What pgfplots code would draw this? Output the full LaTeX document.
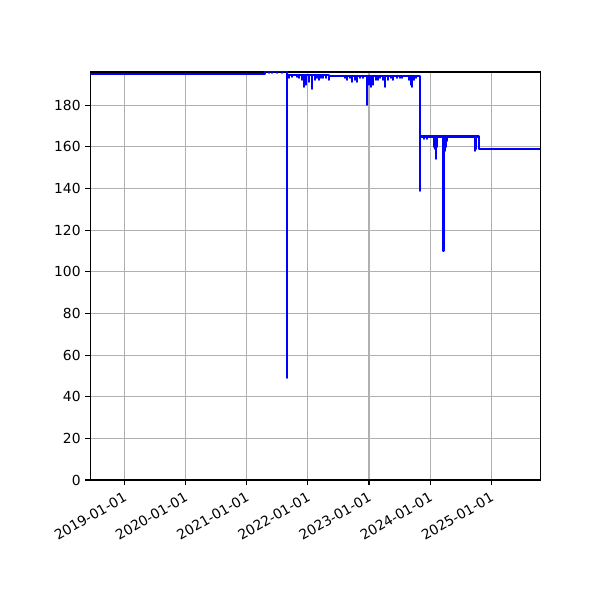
\documentclass[border=0pt]{standalone}
\usepackage{fontspec}
\setmainfont{DejaVu Sans}
\usepackage{pgfplots}
\pgfplotsset{compat=1.18}
\usepgfplotslibrary{dateplot}
\definecolor{gridgray}{HTML}{B0B0B0}

\pgfplotstableread{
date value
2018-06-12 195
2021-04-20 196.5
2021-05-14 195.5
2021-05-15 196.5
2021-06-01 195.5
2021-06-02 196.5
2021-07-01 195.5
2021-07-02 196.5
2021-07-31 195.5
2021-08-01 196.5
2021-08-30 49
2021-08-31 194.5
2021-09-11 193
2021-09-12 194.5
2021-09-29 193.5
2021-09-30 194.5
2021-10-29 193.5
2021-10-30 194.5
2021-11-10 193
2021-11-11 194.5
2021-11-28 192
2021-11-29 194.5
2021-12-10 189
2021-12-11 194.5
2021-12-22 190
2021-12-23 194.5
2022-01-08 191
2022-01-09 194.5
2022-01-25 188
2022-01-26 194.5
2022-02-12 192
2022-02-13 194.5
2022-02-24 193
2022-02-25 194.5
2022-03-08 192
2022-03-09 194.5
2022-03-20 193
2022-03-21 194.5
2022-04-01 193
2022-04-02 194.5
2022-04-19 193
2022-04-20 194.5
2022-05-07 192
2022-05-08 194
2022-08-10 193
2022-08-11 194
2022-08-22 192
2022-08-23 194
2022-09-09 193
2022-09-10 194
2022-09-21 191
2022-09-22 194
2022-10-09 192
2022-10-10 194
2022-10-21 191
2022-10-22 194
2022-11-08 193
2022-11-09 194
2022-11-26 193
2022-11-27 194
2022-12-20 180
2022-12-21 194
2023-01-01 190
2023-01-02 194
2023-01-13 189
2023-01-14 194
2023-01-25 190
2023-01-26 194
2023-02-12 192
2023-02-13 194
2023-02-24 192
2023-02-25 194
2023-03-08 193
2023-03-09 194
2023-03-26 192
2023-03-27 194
2023-04-07 189
2023-04-08 194
2023-04-24 192
2023-04-25 194
2023-05-12 193
2023-05-13 194
2023-05-24 192
2023-05-25 194
2023-06-17 193
2023-06-18 194
2023-07-05 193
2023-07-06 194
2023-07-17 193
2023-07-18 194
2023-08-28 192
2023-08-29 194
2023-09-09 190
2023-09-10 194
2023-09-15 189
2023-09-16 194
2023-09-27 192
2023-09-28 194
2023-10-09 193
2023-10-10 194
2023-11-01 139
2023-11-02 165
2023-11-25 164
2023-11-26 165
2023-12-13 164
2023-12-14 165
2024-01-24 160
2024-01-25 165
2024-01-30 159
2024-01-31 165
2024-02-05 154
2024-02-06 165
2024-02-11 160
2024-02-12 165
2024-03-20 110
2024-03-21 165
2024-03-27 158
2024-03-28 165
2024-04-05 160
2024-04-06 165
2024-04-11 163
2024-04-12 165
2024-09-25 158
2024-09-26 165
2024-10-01 159
2024-10-02 165
2024-10-21 159
2025-10-20 159
}\series

\begin{document}
\begin{tikzpicture}
	\begin{axis}[
		scale only axis,
		width=4.5in, height=4.08in,
		date coordinates in=x,
		date ZERO=2018-06-01,
		xmin=2018-06-12, xmax=2025-10-20,
		ymin=0, ymax=196,
		xtick={2019-01-01,2020-01-01,2021-01-01,2022-01-01,2023-01-01,2024-01-01,2025-01-01},
		xticklabels={2019-01-01,2020-01-01,2021-01-01,2022-01-01,2023-01-01,2024-01-01,2025-01-01},
		ytick={0,20,...,180},
		/pgf/number format/assume math mode=true,
		tick label style={font=\fontsize{10}{12}\selectfont},
		xticklabel style={rotate=30, anchor=north east},
		tick align=outside,
		tick pos=left,
		major tick length=3.5pt,
		every tick/.style={black, line width=0.8pt},
		axis line style={line width=0.8pt},
		grid=major,
		grid style={gridgray, line width=0.8pt},
		]
		\addplot[const plot, blue, line width=1.5pt, line join=round] table[x=date, y=value] {\series};
	\end{axis}
	\path ([xshift=-0.903in,yshift=-1.2in]current axis.south west) rectangle ([xshift=0.597in,yshift=0.72in]current axis.north east);
\end{tikzpicture}
\end{document}
